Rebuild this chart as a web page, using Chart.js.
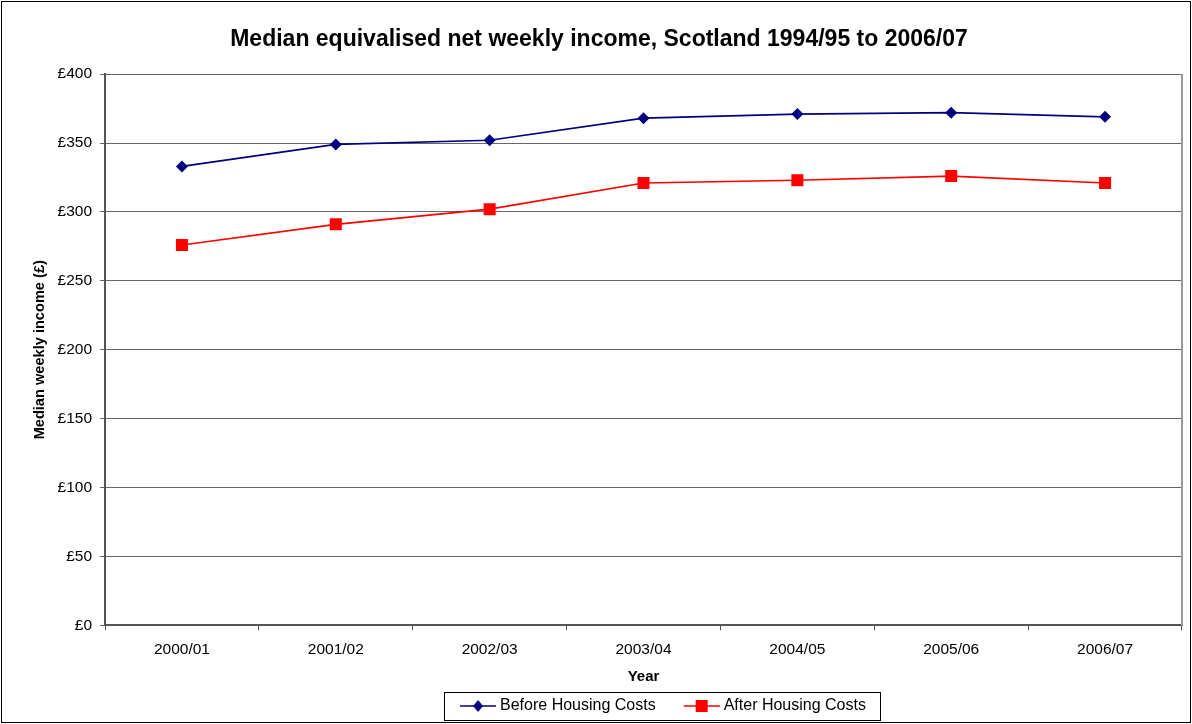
<!DOCTYPE html>
<html>
<head>
<meta charset="utf-8">
<title>Median equivalised net weekly income</title>
<script src="https://cdn.jsdelivr.net/npm/chart.js@4"></script>
<style>
    body { margin: 0; background: #fff; }
    #wrap { width: 1192px; height: 724px; position: relative; }
</style>
</head>
<body>
<div id="wrap"><canvas id="incomeChart" width="1192" height="724"></canvas></div>
<script>
// data
var years = ['2000/01', '2001/02', '2002/03', '2003/04', '2004/05', '2005/06', '2006/07'];
var beforeHousing = [333, 349, 352, 368, 371, 372, 369];
var afterHousing = [276, 291, 302, 321, 323, 326, 321];
var yTicks = [0, 50, 100, 150, 200, 250, 300, 350, 400];

// legend icon: a short line with the marker on it, sitting at the right of a
// transparent strip so it ends up close to its text
function legendIcon(color, shape) {
    var c = document.createElement('canvas');
    c.width = 60; c.height = 14;
    var g = c.getContext('2d');
    g.strokeStyle = color;
    g.lineWidth = 1.5;
    g.beginPath();
    g.moveTo(24, 7); g.lineTo(60, 7);
    g.stroke();
    g.fillStyle = color;
    if (shape === 'diamond') {
        g.beginPath();
        g.moveTo(42, 1); g.lineTo(47, 7); g.lineTo(42, 13); g.lineTo(37, 7);
        g.closePath();
        g.fill();
    } else {
        g.fillRect(36, 1, 12, 12);
    }
    return c;
}
var blueIcon = legendIcon('#000080', 'diamond');
var redIcon = legendIcon('#FF0000', 'square');

// frame around the whole chart, right edge of the plot, box around legend
var framePlugin = {
    id: 'framePlugin',
    afterLayout: function(chart) {
        // legend sits a bit right of centre in the original
        var lg = chart.legend;
        var dx = 653 - (lg.left + lg.right) / 2;
        lg.left += dx;
        lg.right += dx;
    },
    afterDraw: function(chart) {
        var ctx = chart.ctx;
        var a = chart.chartArea;
        ctx.save();
        ctx.strokeStyle = '#999999';
        ctx.lineWidth = 2;
        ctx.beginPath();
        ctx.moveTo(a.right, a.top);
        ctx.lineTo(a.right, a.bottom);
        ctx.stroke();

        ctx.strokeStyle = '#000000';
        ctx.lineWidth = 1;
        ctx.strokeRect(1.5, 1.5, chart.width - 3, chart.height - 3);

        var boxes = chart.legend.legendHitBoxes;
        if (boxes && boxes.length) {
            var first = boxes[0], last = boxes[boxes.length - 1];
            var x0 = first.left + 4, x1 = last.left + last.width + 14;
            var cy = first.top + first.height / 2;
            var y0 = cy - 14, y1 = cy + 14;
            ctx.strokeRect(Math.round(x0) + 0.5, Math.round(y0) + 0.5, Math.round(x1 - x0), Math.round(y1 - y0));
        }
        ctx.restore();
    }
};

var ctx = document.getElementById('incomeChart').getContext('2d');
var incomeChart = new Chart(ctx, {
    type: 'line',
    data: {
        labels: years,
        datasets: [{
            label: 'Before Housing Costs',
            data: beforeHousing,
            borderColor: '#000080',
            backgroundColor: '#000080',
            borderWidth: 1.7,
            pointStyle: 'rectRot',
            pointRadius: 6,
            pointHoverRadius: 6,
            pointBorderWidth: 0,
            fill: false,
            tension: 0
        }, {
            label: 'After Housing Costs',
            data: afterHousing,
            borderColor: '#FF0000',
            backgroundColor: '#FF0000',
            borderWidth: 1.7,
            pointStyle: 'rect',
            pointRadius: 8.5,
            pointHoverRadius: 8.5,
            pointBorderWidth: 0,
            fill: false,
            tension: 0
        }]
    },
    options: {
        responsive: false,
        animation: false,
        maintainAspectRatio: false,
        layout: {
            padding: { left: 16, right: 10, top: 0, bottom: 0 }
        },
        plugins: {
            title: {
                display: true,
                text: 'Median equivalised net weekly income, Scotland 1994/95 to 2006/07',
                color: '#000',
                font: { family: 'Arial', weight: 'bold', size: 23 },
                padding: { top: 25.5, bottom: 21 }
            },
            legend: {
                display: true,
                position: 'bottom',
                labels: {
                    color: '#000',
                    font: { family: 'Arial', size: 16 },
                    usePointStyle: true,
                    pointStyleWidth: 52,
                    padding: 8,
                    generateLabels: function(chart) {
                        return chart.data.datasets.map(function(ds, i) {
                            return {
                                text: ds.label,
                                pointStyle: i === 0 ? blueIcon : redIcon,
                                fillStyle: ds.borderColor,
                                strokeStyle: ds.borderColor,
                                fontColor: '#000',
                                lineWidth: 0,
                                hidden: false,
                                datasetIndex: i
                            };
                        });
                    }
                }
            },
            tooltip: { enabled: false }
        },
        scales: {
            x: {
                offset: true,
                grid: {
                    offset: true,
                    drawOnChartArea: false,
                    drawTicks: true,
                    tickLength: 5,
                    color: '#555'
                },
                border: { color: '#555', width: 2 },
                ticks: {
                    color: '#000',
                    font: { family: 'Arial', size: 15.5 },
                    padding: 10,
                    maxRotation: 0
                },
                title: {
                    display: true,
                    text: 'Year',
                    color: '#000',
                    font: { family: 'Arial', weight: 'bold', size: 15 },
                    padding: { top: -1, bottom: 4 }
                }
            },
            y: {
                min: 0,
                max: 400,
                afterBuildTicks: function(scale) {
                    scale.ticks = yTicks.map(function(v) { return { value: v }; });
                },
                afterFit: function(scale) {
                    scale.width = 89;
                },
                grid: {
                    color: '#666',
                    lineWidth: 1,
                    drawTicks: true,
                    tickLength: 5
                },
                border: { color: '#555', width: 2 },
                ticks: {
                    color: '#000',
                    font: { family: 'Arial', size: 15.5 },
                    padding: 8,
                    callback: function(v) { return '£' + v; }
                },
                title: {
                    display: true,
                    text: 'Median weekly income (£)',
                    color: '#000',
                    font: { family: 'Arial', weight: 'bold', size: 14.6 },
                    padding: { top: 15, bottom: 0 }
                }
            }
        }
    },
    plugins: [framePlugin]
});
</script>
</body>
</html>
